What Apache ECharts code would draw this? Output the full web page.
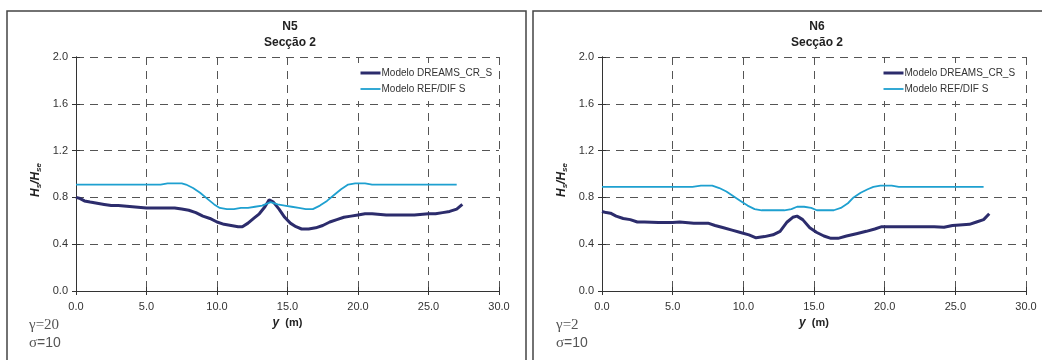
<!DOCTYPE html>
<html><head><meta charset="utf-8">
<script src="https://cdn.jsdelivr.net/npm/echarts@6/dist/echarts.min.js"></script>
<style>html,body{margin:0;padding:0;background:#fff}#c{width:1042px;height:360px}</style>
</head><body><div id="c"></div>
<script>
const xTicks = [0, 5, 10, 15, 20, 25, 30];
const yTicks = [0, 0.4, 0.8, 1.2, 1.6, 2.0];
const seriesNames = ['Modelo DREAMS_CR_S', 'Modelo REF/DIF S'];
const panelTitles = ['N5', 'N6'];
const subTitle = 'Secção 2';
const notesGamma = ['γ=20', 'γ=2'];
const noteSigma = 'σ=10';

const n5DreamsX = [0,0.3,0.6,1.0,1.5,2.0,2.5,3.0,4.0,5.0,6.0,7.0,7.5,8.0,8.5,9.0,9.5,10.0,10.5,11.0,11.5,11.8,12.2,12.6,13.0,13.4,13.7,14.0,14.4,14.8,15.2,15.6,16.0,16.5,17.0,17.5,18.0,18.5,19.0,19.5,20.0,20.5,21.0,22.0,23.0,24.0,25.0,25.5,26.0,26.5,27.0,27.4];
const n5DreamsV = [0.80,0.79,0.77,0.76,0.75,0.74,0.73,0.73,0.72,0.71,0.71,0.71,0.70,0.69,0.67,0.64,0.62,0.59,0.57,0.56,0.55,0.55,0.58,0.62,0.66,0.72,0.78,0.76,0.70,0.63,0.58,0.55,0.53,0.53,0.54,0.56,0.59,0.61,0.63,0.64,0.65,0.66,0.66,0.65,0.65,0.65,0.66,0.66,0.67,0.68,0.70,0.74];

const n5RefX = [0,2,4,6,6.5,7.5,7.8,8.3,8.8,9.3,9.8,10.2,10.7,11.2,11.7,12.2,12.7,13.2,13.8,14.3,14.8,15.3,15.8,16.3,16.8,17.3,17.8,18.3,18.8,19.3,19.8,20.5,21.0,22,24,26,27.0];
const n5RefV = [0.91,0.91,0.91,0.91,0.92,0.92,0.91,0.88,0.84,0.79,0.74,0.71,0.70,0.70,0.71,0.71,0.72,0.73,0.76,0.74,0.73,0.72,0.71,0.70,0.70,0.73,0.77,0.82,0.87,0.91,0.92,0.92,0.91,0.91,0.91,0.91,0.91];

const n6DreamsX = [0,0.3,0.6,1.0,1.5,2.0,2.5,3.0,4.0,5.0,5.5,6.5,7.5,8.0,8.6,9.2,9.8,10.4,10.9,11.5,12.1,12.6,13.1,13.5,13.8,14.2,14.7,15.2,15.7,16.2,16.7,17.3,18.0,18.7,19.3,19.8,20.5,21.5,22.5,23.5,24.2,24.8,25.3,26.0,26.5,27.0,27.4];
const n6DreamsV = [0.68,0.67,0.665,0.64,0.62,0.61,0.59,0.59,0.585,0.585,0.59,0.58,0.58,0.56,0.54,0.52,0.50,0.48,0.455,0.465,0.48,0.51,0.59,0.63,0.64,0.61,0.54,0.50,0.47,0.45,0.45,0.47,0.49,0.51,0.53,0.55,0.55,0.55,0.55,0.55,0.545,0.56,0.565,0.57,0.59,0.61,0.66];

const n6RefX = [0,2,4,6.4,7.0,7.8,8.3,8.8,9.3,9.8,10.3,10.8,11.3,11.8,12.4,12.9,13.4,13.8,14.3,14.8,15.2,15.7,16.4,16.9,17.4,17.8,18.3,18.8,19.2,19.7,20.5,21.0,22,24,26,27.0];
const n6RefV = [0.89,0.89,0.89,0.89,0.90,0.90,0.88,0.85,0.81,0.77,0.73,0.70,0.69,0.69,0.69,0.69,0.70,0.72,0.72,0.71,0.69,0.69,0.69,0.71,0.75,0.80,0.84,0.87,0.89,0.90,0.90,0.89,0.89,0.89,0.89,0.89];

const zip = (xs, vs) => xs.map((x, i) => [x, vs[i]]);
const darkColor = '#2c2c6c';
const cyanColor = '#1ea0d0';
const txt = '#333';
const labelFont = 'Liberation Sans, Arial, sans-serif';

const grids = [
  {left: 76, top: 57, width: 423, height: 234},
  {left: 602, top: 57, width: 424, height: 234}
];
const splitStyle = {show: true, lineStyle: {color: '#555', type: [8, 6], width: 1}};

function xAxis(i, inner) {
  return {
    gridIndex: i, type: 'value', min: 0, max: 30, interval: 5, position: 'bottom',
    axisLine: {onZero: false, lineStyle: {color: '#333', width: 1}},
    axisTick: {length: 4, inside: !!inner, lineStyle: {color: '#333'}},
    axisLabel: {show: !inner, color: txt, fontSize: 11, fontFamily: labelFont, margin: 10,
      formatter: v => xTicks.includes(v) ? v.toFixed(1) : ''},
    splitLine: inner ? {show: false} : splitStyle,
    name: inner ? '' : '{i|y}{b|  (m)}', nameLocation: 'middle', nameGap: 24,
    nameTextStyle: {rich: {
      i: {fontStyle: 'italic', fontWeight: 'bold', fontSize: 12, fontFamily: labelFont, color: '#222'},
      b: {fontWeight: 'bold', fontSize: 11, fontFamily: labelFont, color: '#222'}}}
  };
}
function yAxis(i, inner) {
  return {
    gridIndex: i, type: 'value', min: 0, max: 2.0, interval: 0.4, position: 'left',
    axisLine: {show: true, onZero: false, lineStyle: {color: '#333', width: 1}},
    axisTick: {show: true, length: 4, inside: !!inner, lineStyle: {color: '#333'}},
    axisLabel: {show: !inner, color: txt, fontSize: 11, fontFamily: labelFont, margin: 8,
      formatter: v => v.toFixed(1)},
    splitLine: inner ? {show: false} : splitStyle,
    name: inner ? '' : '{a|H}{s|s}{a|/H}{s|se}', nameLocation: 'middle', nameGap: 33, nameRotate: 90,
    nameTextStyle: {padding: [0, 12, 0, 0], rich: {
      a: {fontStyle: 'italic', fontWeight: 'bold', fontSize: 12, fontFamily: labelFont, color: '#222'},
      s: {fontStyle: 'italic', fontWeight: 'bold', fontSize: 8, fontFamily: labelFont, color: '#222', verticalAlign: 'bottom', padding: [6, 0, 0, 0]}}}
  };
}

const datasets = [[n5DreamsX, n5DreamsV, n5RefX, n5RefV], [n6DreamsX, n6DreamsV, n6RefX, n6RefV]];
const series = [];
datasets.forEach((d, i) => {
  series.push({name: seriesNames[0], type: 'line', xAxisIndex: i, yAxisIndex: i, data: zip(d[0], d[1]),
    showSymbol: false, symbol: 'none', lineStyle: {color: darkColor, width: 3}, itemStyle: {color: darkColor}, z: 3});
  series.push({name: seriesNames[1], type: 'line', xAxisIndex: i, yAxisIndex: i, data: zip(d[2], d[3]),
    showSymbol: false, symbol: 'none', lineStyle: {color: cyanColor, width: 1.8}, itemStyle: {color: cyanColor}, z: 4});
});

const titleCenters = [285, 812];
const legendLeft = [356, 879];
const noteLeft = [29, 556];
const serif = '"Liberation Serif", "Times New Roman", serif';

const option = {
  animation: false,
  backgroundColor: '#fff',
  title: panelTitles.map((t, i) => ({
    text: t + '\n' + subTitle, left: titleCenters[i], top: 14, textAlign: 'center',
    textStyle: {fontSize: 12, fontWeight: 'bold', color: '#222', fontFamily: labelFont, lineHeight: 16}
  })),
  legend: [0, 1].map(i => ({
    data: [
      {name: seriesNames[0], lineStyle: {width: 3, color: darkColor}},
      {name: seriesNames[1], lineStyle: {width: 1.8, color: cyanColor}}
    ],
    orient: 'vertical', left: legendLeft[i], top: 63,
    padding: [5, 4, 7, 3], backgroundColor: '#fff',
    itemWidth: 20, itemHeight: 10, itemGap: 6, selectedMode: false,
    itemStyle: {opacity: 0},
    textStyle: {fontSize: 10, color: txt, fontFamily: labelFont, padding: [0, 0, 0, -4]}
  })),
  grid: grids,
  xAxis: [xAxis(0), xAxis(1), xAxis(0, true), xAxis(1, true)],
  yAxis: [yAxis(0), yAxis(1), yAxis(0, true), yAxis(1, true)],
  series: series,
  graphic: [
    {type: 'rect', shape: {x: 7, y: 11, width: 519, height: 360}, style: {fill: null, stroke: '#444', lineWidth: 1.5}, silent: true},
    {type: 'rect', shape: {x: 533, y: 11, width: 520, height: 360}, style: {fill: null, stroke: '#444', lineWidth: 1.5}, silent: true},
    ...[0, 1].flatMap(i => [
      {type: 'text', left: noteLeft[i], top: 318, style: {text: notesGamma[i], font: '15px ' + serif, fill: '#555'}},
      {type: 'text', left: noteLeft[i], top: 336, style: {text: '{g|σ}{n|' + noteSigma.slice(1) + '}',
        rich: {g: {font: '15px ' + serif, fill: '#555'}, n: {font: '14px ' + labelFont, fill: '#555'}}}}
    ])
  ]
};
const chart = echarts.init(document.getElementById('c'));
chart.setOption(option);
</script></body></html>
